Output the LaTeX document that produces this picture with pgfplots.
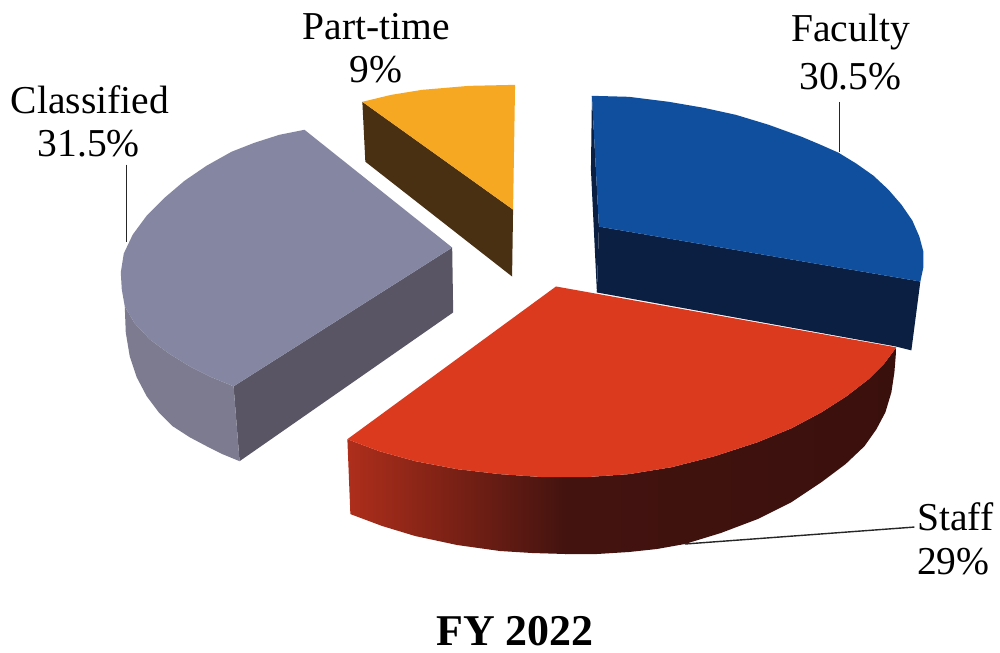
\documentclass[border=0pt]{standalone}
\usepackage{pgfplots}
\pgfplotsset{compat=1.18}
\usepackage{fontspec}
\setmainfont{Liberation Serif}
\definecolor{bluetop}{HTML}{0F4F9E}
\definecolor{blueside}{HTML}{0A1F42}
\definecolor{redtop}{HTML}{DC3A1E}
\definecolor{redl}{HTML}{AE2E1B}
\definecolor{redm}{HTML}{43130F}
\definecolor{redr}{HTML}{3A100D}
\definecolor{orangetop}{HTML}{F7A823}
\definecolor{orangeside}{HTML}{4A3012}
\definecolor{greytop}{HTML}{8587A2}
\definecolor{greyleft}{HTML}{7C7B90}
\definecolor{greyright}{HTML}{5A5564}
\begin{document}
\begin{tikzpicture}
\begin{axis}[
  scale only axis, width=500pt, height=326pt,
  xmin=0, xmax=1000, ymin=0, ymax=652, y dir=reverse,
  hide axis, clip=false
]
% page extent
\addplot[draw=none, fill=white] coordinates {(0,0) (1000,0) (1000,652) (0,652)} -- cycle;
% Faculty
\addplot[draw=none, fill=blueside] coordinates {(600,227) (922,282) (913,351) (897,347) (598,293)} -- cycle;
\addplot[draw=none, fill=blueside] coordinates {(593,96) (592,170) (598,293) (600,227)} -- cycle;
\addplot[draw=none, fill=bluetop] coordinates {(593,96) (630,97) (670,102) (705,108) (737,115) (770,125) (803,137) (822,145) (840,153) (858,164) (875,176) (890,190) (903,205) (914,221) (921,237) (925,252) (925,268) (922,282) (600,227)} -- cycle;
% Staff side, right part
\addplot[draw=none, left color=redm, right color=redr] coordinates {(566,478) (587,478) (630,475) (673,468) (716,457) (759,443) (793,429) (823,413) (848,397) (870,380) (886,364) (898,348) (896,373) (893,393) (887,413) (878,430) (866,447) (847,465) (823,483) (793,503) (759,520) (722,534) (686,545) (658,550) (630,553) (598,555) (566,555)} -- cycle;
% Staff side, left part
\addplot[draw=none, left color=redl, right color=redm] coordinates {(348,440) (380,452) (416,462) (458,470) (501,475) (544,478) (567,478) (567,555) (533,554) (501,552) (458,546) (416,537) (383,527) (351,515)} -- cycle;
% Staff top
\addplot[draw=none, fill=redtop] coordinates {(557,287) (898,348) (886,364) (870,380) (848,397) (823,413) (793,429) (759,443) (716,457) (673,468) (630,475) (587,478) (544,478) (501,475) (458,470) (416,462) (380,452) (348,440)} -- cycle;
% Classified
\addplot[draw=none, fill=greyright] coordinates {(234,387) (453,248) (454,313) (240,462)} -- cycle;
\addplot[draw=none, fill=greyleft] coordinates {(125,307) (135,324) (150,340) (169,354) (190,367) (212,378) (234,387) (240,462) (223,455) (207,447) (190,438) (173,427) (159,413) (147,397) (137,378) (130,357) (126,333)} -- cycle;
\addplot[draw=none, fill=greytop] coordinates {(305,130) (280,135) (255,143) (232,152) (207,166) (185,181) (165,198) (147,216) (133,235) (124,254) (121,273) (122,290) (125,307) (135,324) (150,340) (169,354) (190,367) (212,378) (234,387) (453,248)} -- cycle;
% Part-time
\addplot[draw=none, fill=orangeside] coordinates {(363,102) (514,210) (513,277) (366,162)} -- cycle;
\addplot[draw=none, fill=orangetop] coordinates {(363,102) (392,95) (423,90) (470,86) (516,85) (514,210)} -- cycle;
% leader lines
\addplot[black!85, line width=0.7pt] coordinates {(841,102) (841,152)};
\addplot[black!85, line width=0.7pt] coordinates {(127,165) (127,242)};
\addplot[black!85, line width=0.7pt] coordinates {(916,528) (686,545)};
% labels
\node[font=\fontsize{19.8}{22}\selectfont] at (axis cs:852,32) {Faculty};
\node[font=\fontsize{19.8}{22}\selectfont] at (axis cs:852,77) {30.5\%};
\node[font=\fontsize{19.8}{22}\selectfont] at (axis cs:90,100) {Classified};
\node[font=\fontsize{19.8}{22}\selectfont] at (axis cs:89,144) {31.5\%};
\node[font=\fontsize{19.8}{22}\selectfont] at (axis cs:377,27) {Part-time};
\node[font=\fontsize{19.8}{22}\selectfont] at (axis cs:377,70) {9\%};
\node[font=\fontsize{19.8}{22}\selectfont] at (axis cs:957,518) {Staff};
\node[font=\fontsize{19.8}{22}\selectfont] at (axis cs:955,563) {29\%};
\node[font=\fontsize{22}{24}\selectfont\bfseries] at (axis cs:516,632) {FY 2022};
\end{axis}
\end{tikzpicture}
\end{document}
